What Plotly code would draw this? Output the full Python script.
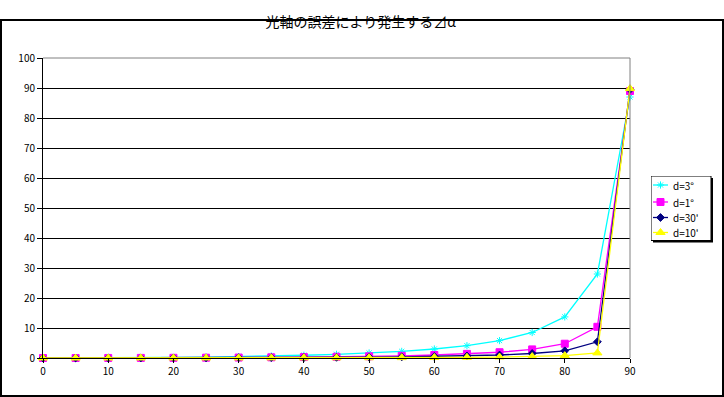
import plotly.graph_objects as go

theta = [0, 5, 10, 15, 20, 25, 30, 35, 40, 45, 50, 55, 60, 65, 70, 75, 80, 85, 90]
d3 = [0, 0.01, 0.05, 0.1, 0.19, 0.31, 0.46, 0.66, 0.92, 1.24, 1.67, 2.2, 3.0, 4.1, 5.8, 8.5, 13.7, 28.0, 87.0]
d1 = [0, 0.004, 0.015, 0.035, 0.064, 0.10, 0.15, 0.22, 0.31, 0.41, 0.56, 0.74, 1.0, 1.37, 1.92, 2.86, 4.76, 10.4, 89.0]
d30 = [0, 0.002, 0.008, 0.018, 0.032, 0.05, 0.08, 0.11, 0.15, 0.21, 0.28, 0.37, 0.5, 0.68, 1.0, 1.5, 2.4, 5.4, 89.5]
d10 = [0, 0.001, 0.003, 0.006, 0.011, 0.017, 0.026, 0.037, 0.05, 0.07, 0.09, 0.12, 0.17, 0.23, 0.32, 0.48, 0.8, 1.7, 89.8]
names = ["d=3°", "d=1°", "d=30'", "d=10'"]
x_ticks = [0, 10, 20, 30, 40, 50, 60, 70, 80, 90]
y_ticks = [0, 10, 20, 30, 40, 50, 60, 70, 80, 90, 100]

series = [d3, d1, d30, d10]
colors = ["#00FFFF", "#FF00FF", "#000080", "#FFFF00"]
symbols = ["asterisk-open", "square", "diamond", "triangle-up"]
sizes = [6, 7, 6, 8]

W, H = 724, 397
L, T, B = 43, 58, 39
PLOT_R = 630          # right edge of plot area (px)
area_w = W - L        # margin r = 0
ph = H - T - B
xdom = (PLOT_R - L) / area_w

fig = go.Figure()
for vals, name, c, s, sz in zip(series, names, colors, symbols, sizes):
    fig.add_trace(go.Scatter(
        x=theta, y=vals, name=name, mode="lines+markers",
        line=dict(color=c, width=1.3),
        marker=dict(symbol=s, size=sz, color=c, line=dict(color=c, width=1)),
        cliponaxis=False, showlegend=False,
    ))

# ---- custom legend drawn on an overlay pixel axis ----
LX0, LX1, LY0, LY1 = 651, 714, 176, 243   # legend region in px
row_y = [185, 202, 217.5, 232.5]
sample_x = [653, 668]
for ry, name, c, s, sz in zip(row_y, names, colors, symbols, sizes):
    fig.add_trace(go.Scatter(
        x=sample_x, y=[ry, ry], mode="lines", line=dict(color=c, width=1.3),
        xaxis="x2", yaxis="y2", showlegend=False, hoverinfo="skip"))
    fig.add_trace(go.Scatter(
        x=[(sample_x[0] + sample_x[1]) / 2], y=[ry], mode="markers",
        marker=dict(symbol=s, size=sz, color=c, line=dict(color=c, width=1)),
        xaxis="x2", yaxis="y2", showlegend=False, hoverinfo="skip",
        cliponaxis=False))
    fig.add_annotation(x=671, y=ry, xref="x2", yref="y2", text=name,
                       showarrow=False, xanchor="left", yanchor="middle",
                       font=dict(size=10, color="black"))

# legend box shadow and box
fig.add_shape(type="rect", xref="x2", yref="y2", x0=653, x1=713, y0=178, y1=242.5,
              fillcolor="black", line=dict(width=0), layer="between")
fig.add_shape(type="rect", xref="x2", yref="y2", x0=651, x1=711, y0=176, y1=240.5,
              fillcolor="white", line=dict(color="black", width=1), layer="between")

fig.update_layout(
    width=W, height=H,
    margin=dict(l=L, r=0, t=T, b=B, autoexpand=False),
    paper_bgcolor="white", plot_bgcolor="white",
    font=dict(family="Noto Sans CJK JP, Noto Sans, sans-serif", size=10, color="black"),
    title=dict(text="光軸の誤差により発生する⊿α", x=360.7 / W, xanchor="center",
               y=1 - 22 / H, yanchor="middle", yref="container",
               font=dict(size=14, color="black")),
    showlegend=False,
    xaxis=dict(domain=[0, xdom], range=[0, 90], tickvals=x_ticks, showgrid=False,
               zeroline=False, showline=True, linecolor="black", linewidth=1,
               ticks="outside", ticklen=4, tickcolor="black", fixedrange=True),
    yaxis=dict(range=[0, 100], tickvals=y_ticks, showgrid=True, gridcolor="black",
               gridwidth=1, zeroline=False, showline=True, linecolor="black",
               linewidth=1, ticks="outside", ticklen=5, tickcolor="black",
               fixedrange=True),
    xaxis2=dict(domain=[(LX0 - L) / area_w, (LX1 - L) / area_w], range=[LX0, LX1],
                visible=False, fixedrange=True, anchor="y2"),
    yaxis2=dict(domain=[(H - B - LY1) / ph, (H - B - LY0) / ph], range=[LY1, LY0],
                visible=False, fixedrange=True, anchor="x2"),
)

# gray top/right plot border
fig.add_shape(type="line", xref="x domain", yref="y domain", x0=0, x1=1, y0=1, y1=1,
              line=dict(color="#808080", width=1))
fig.add_shape(type="line", xref="x domain", yref="y domain", x0=1, x1=1, y0=0, y1=1,
              line=dict(color="#808080", width=1))
# outer chart border
fig.add_shape(type="rect", xref="paper", yref="paper",
              x0=(-L + 1) / area_w, x1=(W - L - 1) / area_w,
              y0=(-B + 1) / ph, y1=(H - T - 1) / ph,
              line=dict(color="black", width=2))

fig.write_html("out.html", post_script="document.body.style.margin='0';",
               config={"displayModeBar": False, "staticPlot": True})
